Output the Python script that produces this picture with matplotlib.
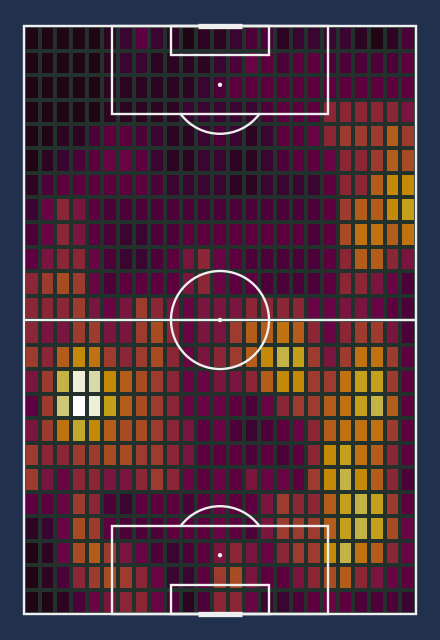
import numpy as np
import matplotlib
matplotlib.use("Agg")
import matplotlib.pyplot as plt
from matplotlib.colors import LinearSegmentedColormap
from matplotlib.patches import Arc, Circle, Rectangle

# pitch size (statsbomb units), vertical: width across, length up
pitch_width = 80
pitch_length = 120
n_cols = 25
n_rows = 24

# binned intensity, top row (attacking end) first, left to right
heat = [
    [0, 0, 0, 0, 0, 1, 2, 4, 2, 1, 0, 1, 1, 2, 3, 3, 1, 2, 2, 2, 2, 1, 0, 1, 3],
    [0, 0, 0, 0, 0, 1, 2, 2, 1, 1, 1, 1, 2, 3, 5, 4, 3, 4, 4, 3, 3, 3, 3, 3, 4],
    [0, 0, 0, 0, 0, 1, 1, 1, 1, 1, 1, 2, 3, 4, 4, 4, 4, 4, 4, 4, 4, 4, 4, 4, 4],
    [0, 0, 0, 0, 0, 1, 1, 1, 1, 1, 2, 2, 2, 2, 2, 3, 4, 4, 4, 7, 7, 7, 7, 7, 6],
    [0, 0, 1, 1, 3, 4, 4, 3, 2, 1, 1, 2, 3, 2, 1, 2, 4, 4, 5, 7, 8, 8, 8, 10, 8],
    [0, 1, 2, 3, 4, 5, 5, 4, 2, 1, 1, 2, 2, 1, 1, 2, 3, 4, 4, 5, 7, 7, 8, 10, 9],
    [1, 3, 4, 4, 4, 4, 4, 4, 3, 2, 2, 2, 2, 1, 1, 2, 2, 2, 2, 4, 7, 7, 10, 12, 12],
    [2, 5, 7, 6, 4, 3, 3, 3, 3, 3, 3, 3, 3, 3, 3, 3, 3, 3, 3, 4, 8, 10, 10, 12, 13],
    [3, 5, 7, 6, 4, 3, 2, 2, 3, 3, 4, 4, 4, 4, 4, 4, 4, 4, 3, 4, 9, 11, 11, 10, 11],
    [4, 6, 7, 7, 5, 3, 2, 2, 3, 4, 6, 7, 5, 4, 3, 3, 3, 3, 3, 4, 7, 10, 10, 7, 6],
    [7, 8, 9, 8, 5, 3, 4, 4, 4, 4, 6, 7, 5, 4, 4, 3, 3, 3, 3, 4, 7, 7, 6, 5, 3],
    [7, 7, 7, 8, 6, 5, 6, 8, 7, 6, 5, 6, 6, 6, 7, 7, 7, 7, 5, 5, 6, 6, 5, 4, 3],
    [7, 6, 6, 8, 8, 6, 6, 8, 9, 7, 5, 6, 6, 8, 10, 10, 11, 10, 7, 5, 7, 8, 8, 6, 3],
    [8, 7, 10, 12, 11, 8, 7, 8, 9, 7, 5, 6, 7, 8, 10, 12, 14, 13, 8, 6, 8, 11, 11, 8, 4],
    [6, 8, 14, 15.5, 15, 12, 10, 9, 8, 7, 5, 5, 6, 6, 7, 10, 12, 12, 8, 8, 11, 13, 13, 8, 4],
    [4, 8, 14.5, 16, 15.5, 13, 10, 9, 8, 7, 5, 5, 5, 4, 3, 5, 7, 8, 8, 10, 11, 13, 14, 10, 4],
    [6, 8, 11, 13.5, 12, 10, 9, 9, 8, 7, 6, 4, 5, 3, 2, 3, 4, 5, 7, 10, 11, 11, 11, 8, 4],
    [8, 7, 7, 8, 8, 9, 9, 8, 8, 7, 6, 4, 4, 4, 3, 4, 3, 4, 7, 12, 13, 11, 10, 7, 4],
    [8, 6, 5, 7, 7, 6, 6, 7, 8, 7, 5, 4, 5, 4, 6, 5, 5, 4, 8, 12, 14, 12, 10, 7, 3],
    [4, 4, 5, 8, 7, 3, 2, 4, 4, 4, 3, 4, 5, 4, 4, 6, 8, 7, 7, 10, 13, 14, 13, 8, 4],
    [1, 2, 5, 9, 8, 4, 3, 3, 3, 4, 4, 4, 5, 4, 3, 6, 8, 8, 8, 10, 13, 14, 13, 9, 5],
    [0, 1, 5, 9, 10, 8, 6, 5, 3, 2, 3, 4, 6, 7, 6, 5, 7, 8, 8, 12, 14, 11, 10, 7, 5],
    [0, 1, 3, 7, 8, 9, 8, 7, 5, 2, 2, 4, 8, 9, 6, 4, 4, 6, 7, 9, 10, 7, 6, 5, 4],
    [0, 0, 1, 3, 5, 6, 7, 7, 5, 3, 1, 3, 7, 7, 5, 2, 2, 3, 4, 5, 4, 3, 3, 3, 2],
]

cmap_stops = [0, 2, 4, 5, 6, 7, 8, 9, 10, 11, 12, 13, 14, 15, 16]
cmap_colors = ['#200514', '#3a0530', '#5e0040', '#6a0545', '#7a1540', '#8a2535',
               '#9c3a2e', '#a84a22', '#b45c1a', '#c07010', '#c48808', '#c49e18',
               '#c4b040', '#d4d8a0', '#ffffff']

bg_color = '#21314d'
grid_color = '#22312b'
line_color = '#efefef'

cmap = LinearSegmentedColormap.from_list(
    'heat', [(s / 16, c) for s, c in zip(cmap_stops, cmap_colors)])

fig = plt.figure(figsize=(4.4, 6.4), dpi=100)
fig.set_facecolor(bg_color)
ax = fig.add_axes([24 / 440, 26 / 640, 392 / 440, 588 / 640])
ax.set_xlim(0, pitch_width)
ax.set_ylim(0, pitch_length)
ax.axis('off')

xe = np.linspace(0, pitch_width, n_cols + 1)
ye = np.linspace(0, pitch_length, n_rows + 1)
values = np.array(heat)[::-1]
ax.pcolormesh(xe, ye, values, cmap=cmap, vmin=0, vmax=16,
              edgecolors=grid_color, linewidth=1.7, zorder=1)

lw = 1.7
kw = dict(fill=False, edgecolor=line_color, linewidth=lw, zorder=3, clip_on=False)
# outline and halfway line
ax.add_patch(Rectangle((0, 0), pitch_width, pitch_length, **kw))
ax.plot([0, pitch_width], [60, 60], color=line_color, lw=lw, zorder=3)
ax.add_patch(Circle((40, 60), 10, **kw))
ax.add_patch(Circle((40, 60), 0.3, color=line_color, zorder=3))

for end in (0, 1):
    if end == 0:
        goal_y, sign = 0, 1
    else:
        goal_y, sign = pitch_length, -1
    # penalty box and six yard box
    ax.add_patch(Rectangle((18, goal_y), 44, 18 * sign, **kw))
    ax.add_patch(Rectangle((30, goal_y), 20, 6 * sign, **kw))
    ax.add_patch(Circle((40, goal_y + 12 * sign), 0.3, color=line_color, zorder=3))
    t1, t2 = (36.87, 143.13) if sign == 1 else (216.87, 323.13)
    ax.add_patch(Arc((40, goal_y + 12 * sign), 20, 20, theta1=t1, theta2=t2,
                     color=line_color, lw=lw, zorder=3))
    ax.plot([35.5, 44.5], [goal_y, goal_y], color=line_color, lw=3.8,
            solid_capstyle='butt', zorder=4, clip_on=False)

fig.savefig('out.png', dpi=100, facecolor=bg_color)
